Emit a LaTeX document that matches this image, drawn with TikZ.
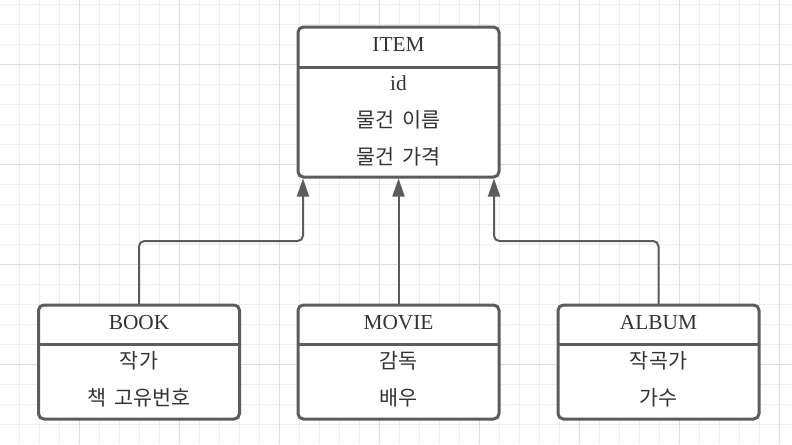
\documentclass[tikz,border=0pt]{standalone}
\usepackage{fontspec}
\setmainfont{Liberation Serif}
\newfontfamily\kr[WordSpace=1.8]{Noto Sans CJK KR}
\usetikzlibrary{arrows.meta,calc}
\definecolor{ln}{HTML}{5C5C5C}
\definecolor{gminor}{HTML}{EEEEEE}
\definecolor{gmajor}{HTML}{DDDDDD}
\definecolor{tx}{HTML}{333333}
\tikzset{
  umlbox/.style={draw=ln, line width=2.25pt, fill=white, rounded corners=4pt,
    inner sep=0pt, outer sep=0pt, minimum width=150.75pt},
  bigbox/.style={umlbox, minimum height=112.5pt},
  smallbox/.style={umlbox, minimum height=85.5pt},
  divider/.style={draw=ln, line width=2.25pt},
  lbl/.style={anchor=base, inner sep=0pt, text=tx, font=\fontsize{16}{19}\selectfont},
  krlbl/.style={lbl, font=\fontsize{15.5}{18}\selectfont\kr},
  conn/.style={draw=ln, line width=1.5pt, rounded corners=4pt,
    -{Triangle[length=13.5pt,width=9pt]}},
  gminorline/.style={draw=gminor, line width=0.75pt},
  gmajorline/.style={draw=gmajor, line width=0.75pt}
}
\begin{document}
\begin{tikzpicture}[x=0.75pt,y=-0.75pt]
\useasboundingbox (0,0) rectangle (792,444);
\fill[white] (0,0) rectangle (792,444);
% grid
\foreach \x in {19.5,39.5,...,791} \draw[gminorline] (\x,0) -- (\x,444);
\foreach \y in {4.5,24.5,...,443} \draw[gminorline] (0,\y) -- (792,\y);
\foreach \x in {79.5,179.5,...,791} \draw[gmajorline] (\x,0) -- (\x,444);
\foreach \y in {64.5,164.5,...,443} \draw[gmajorline] (0,\y) -- (792,\y);

% boxes
\node[bigbox] (item) at (398.5,102) {};
\node[smallbox] (book) at (139,362) {};
\node[smallbox] (movie) at (398.5,362) {};
\node[smallbox] (album) at (658.5,362) {};

\draw[divider] ($(item.north west)+(0,40)$) -- ($(item.north east)+(0,40)$);
\draw[divider] ($(book.north west)+(0,39)$) -- ($(book.north east)+(0,39)$);
\draw[divider] ($(movie.north west)+(0,39)$) -- ($(movie.north east)+(0,39)$);
\draw[divider] ($(album.north west)+(0,39)$) -- ($(album.north east)+(0,39)$);

% texts
\node[lbl] (itemT) at (398.5,51.5) {ITEM};
\node[lbl] (itemA) at (398.5,90) {id};
\node[krlbl] (itemB) at (398.5,127.5) {물건 이름};
\node[krlbl] (itemC) at (398.5,164.5) {물건 가격};

\node[lbl] (bookT) at (139,329.5) {BOOK};
\node[krlbl] (bookA) at (139,368) {작가};
\node[krlbl] (bookB) at (139,405) {책 고유번호};

\node[lbl] (movieT) at (398.5,329.5) {MOVIE};
\node[krlbl] (movieA) at (398.5,368) {감독};
\node[krlbl] (movieB) at (398.5,405) {배우};

\node[lbl] (albumT) at (658.5,329.5) {ALBUM};
\node[krlbl] (albumA) at (658.5,368) {작곡가};
\node[krlbl] (albumB) at (658.5,405) {가수};

% connectors
\coordinate (itemL) at ($(item.south west)+(5,1.5)$);
\coordinate (itemR) at ($(item.south east)+(-5,1.5)$);
\coordinate (itemM) at ($(item.south)+(0,1.5)$);
\coordinate (midL) at ($(itemL |- 0,241)$);
\coordinate (midR) at ($(itemR |- 0,241)$);
\draw[conn] (book.north) |- (midL) -- (itemL);
\draw[conn] (movie.north) -- (itemM);
\draw[conn] (album.north) |- (midR) -- (itemR);
\end{tikzpicture}
\end{document}
